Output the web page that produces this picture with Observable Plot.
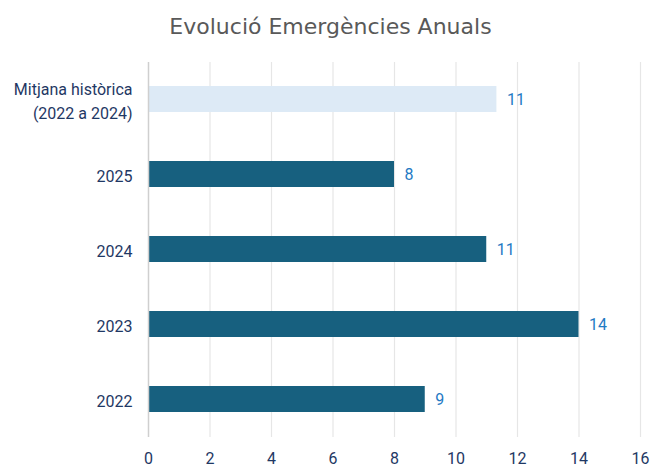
<!DOCTYPE html>
<html>
<head>
<meta charset="utf-8">
<script src="https://cdn.jsdelivr.net/npm/d3@7"></script>
<script src="https://cdn.jsdelivr.net/npm/@observablehq/plot@0.6"></script>
<style>
  body { margin: 0; background: #fff; }
  #title { height: 50px; line-height: 54px; text-align: center; font-family: "DejaVu Sans", sans-serif; font-size: 22px; color: #595959; padding-left: 10px; }
  #chart svg { display: block; }
</style>
</head>
<body>
<div id="title">Evolució Emergències Anuals</div>
<div id="chart"></div>
<script>
const categories = ["Mitjana històrica\n(2022 a 2024)", "2025", "2024", "2023", "2022"];
const values = [11.33, 8, 11, 14, 9];
const valueLabels = ["11", "8", "11", "14", "9"];
const barColors = ["#DDEAF6", "#17607F", "#17607F", "#17607F", "#17607F"];
const xTicks = [0, 2, 4, 6, 8, 10, 12, 14, 16];

const data = categories.map((c, i) => ({cat: c, value: values[i], label: valueLabels[i], color: barColors[i]}));

const chart = Plot.plot({
  width: 651,
  height: 418,
  marginTop: 12,
  marginBottom: 31,
  marginLeft: 148,
  marginRight: 11,
  style: {fontFamily: "Roboto, 'Noto Sans', sans-serif", fontSize: "16px", color: "#1F3864", background: "#fff", overflow: "visible"},
  x: {domain: [0, 16], ticks: xTicks, tickSize: 0, label: null},
  y: {domain: categories, paddingInner: 0.65, paddingOuter: 0.325, label: null, tickSize: 0},
  marks: [
    Plot.ruleX(xTicks.filter(d => d > 0), {stroke: "#e6e6e6", strokeWidth: 1.2}),
    Plot.barX(data, {y: "cat", x: "value", fill: "color"}),
    Plot.ruleX([0], {stroke: "#cfcfcf", strokeWidth: 1.5}),
    Plot.text(data, {y: "cat", x: "value", text: "label", dx: 10, textAnchor: "start", fill: "#1F7AC4", fontSize: 16}),
    Plot.axisX({ticks: xTicks, tickSize: 0, tickPadding: 15, fill: "#1F3864", fontSize: 16}),
    Plot.axisY({tickSize: 0, tickPadding: 16, fill: "#1F3864", fontSize: 16, lineHeight: 1.5})
  ]
});
document.getElementById("chart").appendChild(chart);
</script>
</body>
</html>
